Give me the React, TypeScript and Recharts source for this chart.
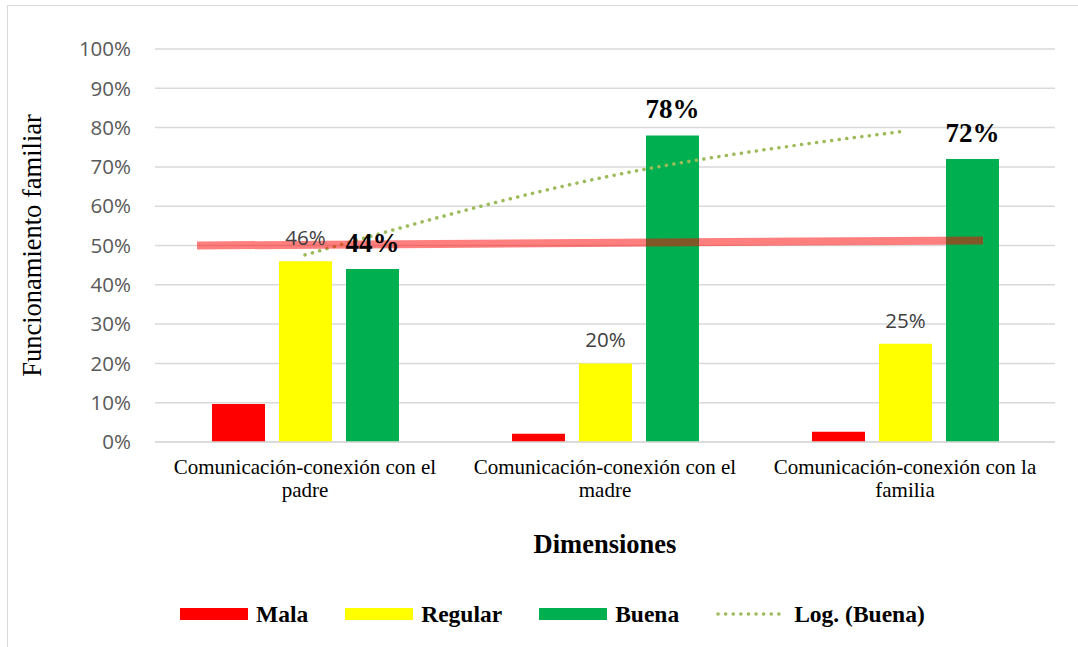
import React from "react";
import {
  ComposedChart,
  Bar,
  Line,
  XAxis,
  YAxis,
  CartesianGrid,
  LabelList,
  ReferenceLine,
} from "recharts";

const categories = [
  "Comunicación-conexión con el padre",
  "Comunicación-conexión con el madre",
  "Comunicación-conexión con la familia",
];
const mala = [9.7, 2.1, 2.6];
const regular = [46, 20, 25];
const buena = [44, 78, 72];
// logarithmic trend of "Buena", as drawn in the picture
const trendBuena = [47.6, 67.4, 79.1];
const yTicks = [0, 10, 20, 30, 40, 50, 60, 70, 80, 90, 100];
// hand-drawn red bar across the chart, in category units (0..3) and %
const redMark = [
  { x: 0.14, y: 50 },
  { x: 2.76, y: 51.3 },
];

const SERIF = '"Liberation Serif", "Times New Roman", serif';
const SANS = '"Open Sans", "Noto Sans", sans-serif';

const data = categories.map((name, i) => ({
  name,
  slot: i + 0.5,
  mala: mala[i],
  regular: regular[i],
  buena: buena[i],
  trend: trendBuena[i],
}));

const CategoryTick = ({ x, y, payload }: any) => {
  const text: string = payload.value;
  const cut = text.lastIndexOf(" ");
  const lines = [text.slice(0, cut), text.slice(cut + 1)];
  return (
    <text textAnchor="middle" fontFamily={SERIF} fontSize={21} fill="#000">
      {lines.map((l, i) => (
        <tspan key={i} x={x} y={y + 24 + i * 23}>
          {l}
        </tspan>
      ))}
    </text>
  );
};

const BuenaLabel = ({ x, y, width, value }: any) => (
  <text
    x={x + width / 2}
    y={y - 17}
    textAnchor="middle"
    fontFamily={SERIF}
    fontSize={27}
    fontWeight="bold"
    fill="#000"
  >
    {`${value}%`}
  </text>
);

const legendItems = [
  { label: "Mala", color: "#FF0000", dotted: false },
  { label: "Regular", color: "#FFFF00", dotted: false },
  { label: "Buena", color: "#00B050", dotted: false },
  { label: "Log. (Buena)", color: "#9BBB59", dotted: true },
];

export default function App() {
  return (
    <div style={{ position: "absolute", left: 0, top: 0, width: 1078, height: 647, overflow: "hidden", background: "#fff" }}>
      <div style={{ position: "absolute", left: 7, top: 5, width: 1100, height: 700, border: "1px solid #D9D9D9" }} />
      <ComposedChart
        width={1078}
        height={647}
        data={data}
        margin={{ top: 49, right: 23, bottom: 85, left: 0 }}
        barSize={53}
        barGap={14}
        style={{ position: "absolute", left: 0, top: 0 }}
      >
        <CartesianGrid vertical={false} stroke="#D9D9D9" strokeWidth={1.5} />
        <XAxis
          dataKey="name"
          height={120}
          tickLine={false}
          axisLine={{ stroke: "#D9D9D9", strokeWidth: 1.5 }}
          tick={<CategoryTick />}
          interval={0}
          label={{
            value: "Dimensiones",
            position: "insideBottom",
            offset: 9,
            style: { fontFamily: SERIF, fontSize: 26.5, fontWeight: "bold", fill: "#000" },
          }}
        />
        <XAxis xAxisId="num" dataKey="slot" type="number" domain={[0, 3]} allowDataOverflow hide />
        <YAxis
          width={155}
          domain={[0, 100]}
          ticks={yTicks}
          tickFormatter={(v) => `${v}%`}
          tickLine={false}
          axisLine={false}
          tickMargin={18}
          tick={{ fontFamily: SANS, fontSize: 20.5, fill: "#595959" }}
          label={{
            value: "Funcionamiento familiar",
            angle: -90,
            position: "center",
            dx: -46,
            style: { fontFamily: SERIF, fontSize: 26.5, fill: "#000", textAnchor: "middle" },
          }}
        />
        <Bar dataKey="mala" fill="#FF0000" isAnimationActive={false} />
        <Bar dataKey="regular" fill="#FFFF00" isAnimationActive={false}>
          <LabelList
            dataKey="regular"
            position="top"
            offset={16}
            formatter={(v: any) => `${v}%`}
            fontFamily={SANS}
            fontSize={20.5}
            fill="#404040"
          />
        </Bar>
        <Bar dataKey="buena" fill="#00B050" isAnimationActive={false}>
          <LabelList dataKey="buena" content={<BuenaLabel />} />
        </Bar>
        <Line
          dataKey="trend"
          type="monotone"
          stroke="#9BBB59"
          strokeWidth={3.5}
          strokeDasharray="0.1 7.5"
          strokeLinecap="round"
          dot={false}
          activeDot={false}
          isAnimationActive={false}
        />
        <ReferenceLine
          xAxisId="num"
          segment={redMark}
          ifOverflow="visible"
          stroke="#FF0000"
          strokeOpacity={0.5}
          strokeWidth={8}
        />
      </ComposedChart>
      <div
        style={{
          position: "absolute",
          left: 180,
          top: 600,
          display: "flex",
          alignItems: "center",
          fontFamily: SERIF,
          fontSize: 23.5,
          fontWeight: "bold",
          color: "#000",
          lineHeight: "28px",
        }}
      >
        {legendItems.map((it, i) => (
          <div key={it.label} style={{ display: "flex", alignItems: "center", marginLeft: i === 0 ? 0 : 37 }}>
            {it.dotted ? (
              <svg width={70} height={12}>
                <line x1={2} y1={6} x2={68} y2={6} stroke={it.color} strokeWidth={3.5} strokeDasharray="0.1 7.5" strokeLinecap="round" />
              </svg>
            ) : (
              <span style={{ display: "inline-block", width: 68, height: 12, background: it.color }} />
            )}
            <span style={{ marginLeft: 8 }}>{it.label}</span>
          </div>
        ))}
      </div>
    </div>
  );
}
